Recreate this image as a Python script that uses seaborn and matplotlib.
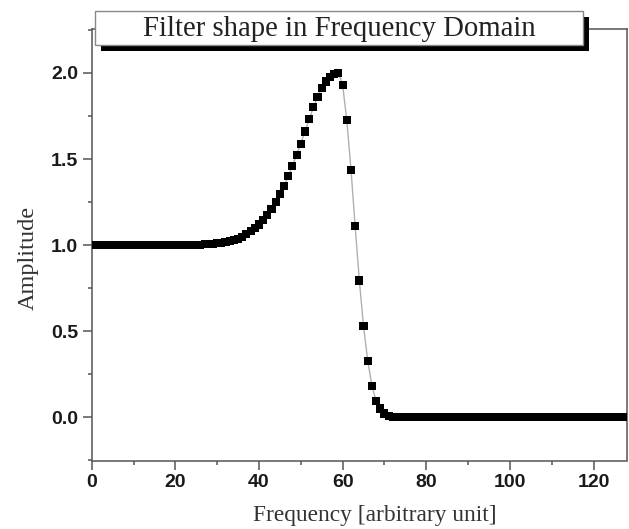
import numpy as np
import pandas as pd
import matplotlib
matplotlib.use("Agg")
import matplotlib.pyplot as plt
from matplotlib.patches import Rectangle
import seaborn as sns

# ---- data ----
frequency = list(range(0, 129))
amplitude = [
    1.0, 1.0, 1.0, 1.0, 1.0, 1.0, 1.0, 1.0, 1.0, 1.0,
    1.0, 1.0, 1.0, 1.0, 1.0, 1.0, 1.0, 1.0, 1.0, 1.0,
    1.0, 1.0, 1.0, 1.0, 1.0, 1.002, 1.003, 1.005, 1.007, 1.009,
    1.012, 1.015, 1.019, 1.024, 1.030, 1.037, 1.05, 1.063, 1.08, 1.10,
    1.12, 1.145, 1.175, 1.21, 1.25, 1.295, 1.345, 1.40, 1.46, 1.525,
    1.59, 1.66, 1.73, 1.80, 1.86, 1.91, 1.95, 1.978, 1.995, 2.0,
    1.93, 1.725, 1.438, 1.109, 0.795, 0.529, 0.33, 0.184, 0.097, 0.052,
    0.023, 0.01, 0.004, 0.001, 0.0, 0.0, 0.0, 0.0, 0.0, 0.0,
    0.0, 0.0, 0.0, 0.0, 0.0, 0.0, 0.0, 0.0, 0.0, 0.0,
    0.0, 0.0, 0.0, 0.0, 0.0, 0.0, 0.0, 0.0, 0.0, 0.0,
    0.0, 0.0, 0.0, 0.0, 0.0, 0.0, 0.0, 0.0, 0.0, 0.0,
    0.0, 0.0, 0.0, 0.0, 0.0, 0.0, 0.0, 0.0, 0.0, 0.0,
    0.0, 0.0, 0.0, 0.0, 0.0, 0.0, 0.0, 0.0, 0.0,
]
x_ticks = [0, 20, 40, 60, 80, 100, 120]
y_ticks = [0.0, 0.5, 1.0, 1.5, 2.0]
title_text = "Filter shape in Frequency Domain"
x_label = "Frequency [arbitrary unit]"
y_label = "Amplitude"

df = pd.DataFrame({"freq": frequency, "amp": amplitude})

sns.set_style("ticks")
plt.rcParams["font.family"] = ["Liberation Sans", "DejaVu Sans"]

W, H = 629, 529
fig = plt.figure(figsize=(W / 100, H / 100), dpi=100)
ax = fig.add_axes([91.7 / W, 1 - 460.5 / H, (627 - 91.7) / W, (460.5 - 29) / H])

sns.lineplot(data=df, x="freq", y="amp", ax=ax, color="#b0b0b0", lw=1.0, zorder=2)
sns.scatterplot(data=df, x="freq", y="amp", ax=ax, marker="s", s=34,
                color="black", edgecolor="none", linewidth=0, zorder=3)

ax.set_xlim(0, 128)
ax.set_ylim(-0.25, 2.255)
ax.set_xticks(x_ticks)
ax.set_yticks(y_ticks)
ax.set_xticklabels([str(t) for t in x_ticks])
ax.set_yticklabels([f"{t:.1f}" for t in y_ticks])
ax.set_xticks(np.arange(10, 128, 20), minor=True)
ax.set_yticks([-0.25, 0.25, 0.75, 1.25, 1.75, 2.25], minor=True)

for sp in ax.spines.values():
    sp.set_color("#555555")
    sp.set_linewidth(1.1)
    sp.set_visible(True)

ax.tick_params(axis="both", which="major", direction="out", length=6.8, width=1.1,
               color="#555555", labelsize=14, labelcolor="#1a1a1a", pad=3)
ax.tick_params(axis="both", which="minor", direction="out", length=3.2, width=1.1,
               color="#555555")
ax.tick_params(top=False, right=False, which="both")
for lab in ax.get_xticklabels() + ax.get_yticklabels():
    lab.set_fontweight("bold")

ax.set_xlabel(x_label, family=["Liberation Serif", "DejaVu Serif"], fontsize=16.8,
              color="#333333", labelpad=10)
ax.set_ylabel(y_label, family=["Liberation Serif", "DejaVu Serif"], fontsize=17.5,
              color="#333333", labelpad=9)
ax.xaxis.label.set_x((375 - 91.7) / (627 - 91.7))
ax.yaxis.label.set_y((460.5 - 258) / (460.5 - 29))

# title box with drop shadow (figure pixel coordinates)
def fig_rect(x0, y0, x1, y1, **kw):
    return Rectangle((x0 / W, 1 - y1 / H), (x1 - x0) / W, (y1 - y0) / H,
                     transform=fig.transFigure, **kw)

fig.patches.append(fig_rect(101, 17, 589, 50.5, facecolor="black", edgecolor="none", zorder=5))
fig.patches.append(fig_rect(95, 11, 583, 44.5, facecolor="white", edgecolor="#888888",
                            linewidth=1.0, zorder=6))
fig.text(339 / W, 1 - 28.5 / H, title_text, ha="center", va="center",
         family=["Liberation Serif", "DejaVu Serif"], fontsize=20.7, color="#222222", zorder=7)

fig.savefig("out.png", dpi=100)
